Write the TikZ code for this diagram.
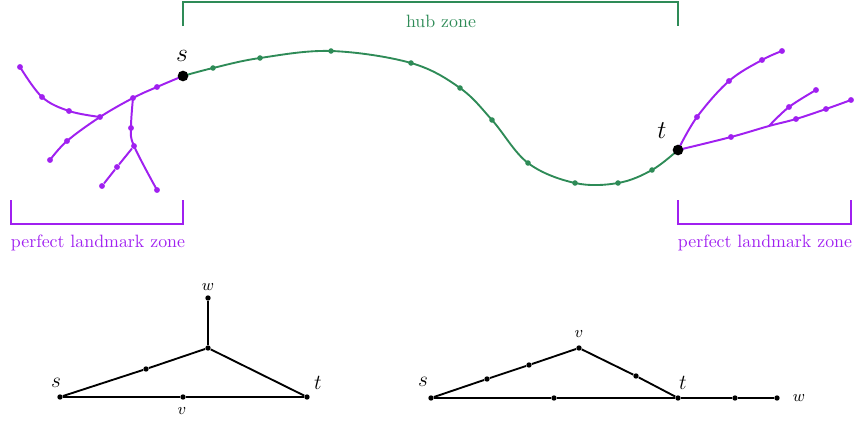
\documentclass[tikz,border=0pt]{standalone}
\usepackage{tikz}
\usetikzlibrary{positioning, backgrounds}
\definecolor{hubgreen}{RGB}{46,139,87}
\definecolor{lmpurple}{RGB}{160,32,240}

\begin{document}
\begin{tikzpicture}[
  x=0.0197cm, y=-0.0197cm,
  gdot/.style = {circle, fill=hubgreen, inner sep=0pt, minimum size=3.1pt},
  pdot/.style = {circle, fill=lmpurple, inner sep=0pt, minimum size=3.3pt},
  bigdot/.style = {circle, fill=black, inner sep=0pt, minimum size=6pt},
  bdot/.style = {circle, fill=black, inner sep=0pt, minimum size=3pt},
  hub/.style = { draw=hubgreen, line width=1.05pt },
  lm/.style = { draw=lmpurple, line width=1.1pt },
  edge/.style = { draw=black, line width=1.05pt },
  zonelbl/.style = { font=\normalsize }
]
\useasboundingbox (0,0) rectangle (854,423);

% top: hub path between s and t
\node[bigdot] (s) at (183,76) {};
\node[bigdot] (t) at (678,150) {};
\node at (182,56) {\Large $s$};
\node at (662,131) {\Large $t$};

\node[gdot] (g1)  at (213,68)  {};
\node[gdot] (g2)  at (260,58)  {};
\node[gdot] (g3)  at (331,51)  {};
\node[gdot] (g4)  at (411,63)  {};
\node[gdot] (g5)  at (460,88)  {};
\node[gdot] (g6)  at (492,120) {};
\node[gdot] (g7)  at (528,163) {};
\node[gdot] (g8)  at (575,183) {};
\node[gdot] (g9)  at (618,183) {};
\node[gdot] (g10) at (652,170) {};

% left landmark tree
\node[pdot] (la1) at (157,87)  {};
\node[pdot] (la2) at (133,98)  {};
\node[pdot] (la3) at (100,117) {};
\node[pdot] (la4) at (67,141)  {};
\node[pdot] (la5) at (50,160)  {};
\node[pdot] (lb1) at (69,111)  {};
\node[pdot] (lb2) at (42,97)   {};
\node[pdot] (lb3) at (20,67)   {};
\node[pdot] (lc1) at (131,128) {};
\node[pdot] (lc2) at (134,146) {};
\node[pdot] (lc3) at (157,190) {};
\node[pdot] (ld1) at (117,167) {};
\node[pdot] (ld2) at (102,186) {};

% right landmark tree
\node[pdot] (ra1) at (697,117) {};
\node[pdot] (ra2) at (729,81)  {};
\node[pdot] (ra3) at (762,60)  {};
\node[pdot] (ra4) at (782,51)  {};
\node[pdot] (rb1) at (731,137) {};
\coordinate (rj)  at (769,126);
\node[pdot] (rb2) at (796,119) {};
\node[pdot] (rb3) at (826,109) {};
\node[pdot] (rb4) at (851,100) {};
\node[pdot] (rc1) at (789,107) {};
\node[pdot] (rc2) at (816,90)  {};

\begin{scope}[on background layer, smooth, tension=0.6]
  \draw[hub] plot coordinates {(s.center) (g1.center) (g2.center)
    (g3.center) (g4.center) (g5.center) (g6.center) (g7.center)
    (g8.center) (g9.center) (g10.center) (t.center)};
  \draw[lm] plot coordinates {(s.center) (la1.center) (la2.center)
    (la3.center) (la4.center) (la5.center)};
  \draw[lm] plot coordinates {(la3.center) (lb1.center)
    (lb2.center) (lb3.center)};
  \draw[lm] plot coordinates {(la2.center) (lc1.center)
    (lc2.center) (lc3.center)};
  \draw[lm] (lc2) -- (ld1) -- (ld2);
  \draw[lm] plot coordinates {(t.center) (ra1.center) (ra2.center)
    (ra3.center) (ra4.center)};
  \draw[lm] plot coordinates {(t.center) (rb1.center) (rj)
    (rb2.center) (rb3.center) (rb4.center)};
  \draw[lm] plot coordinates {(rj) (rc1.center) (rc2.center)};
\end{scope}

% zone brackets
\coordinate (hubL) at (183,26);
\coordinate (hubR) at (678,26);
\draw[hub] (hubL) -- ++(0,-24) -| (hubR);
\node[text=hubgreen, zonelbl] (hubzone) at (441,21) {hub zone};

\coordinate (pl1) at (11,200);
\coordinate (pl2) at (183,200);
\draw[lm] (pl1) |- ++(172,24) -- (pl2);
\node[text=lmpurple, zonelbl] (lzone) at (98,243) {perfect landmark zone};

\coordinate (pr1) at (678,200);
\coordinate (pr2) at (851,200);
\draw[lm] (pr1) |- ++(173,24) -- (pr2);
\node[text=lmpurple, zonelbl] (rzone) at (765,243) {perfect landmark zone};

% bottom left graph
\node[bdot] (bs) at (60,397)  {};
\node[bdot] (bv) at (183,397) {};
\node[bdot] (bt) at (307,397) {};
\node[bdot] (bx) at (208,348) {};
\node[bdot] (bw) at (208,298) {};
\node[bdot] (bm) at (146,369) {};
\node at (56,383)  {\large $s$};
\node at (318,383) {\large $t$};
\node at (208,287) {\small $w$};
\node at (182,411) {\small $v$};

\draw[edge] (bs) -- (bv) -- (bt);
\draw[edge] (bs) -- (bm) -- (bx);
\draw[edge] (bx) -- (bt);
\draw[edge] (bx) -- (bw);

% bottom right graph
\node[bdot] (cs) at (431,398) {};
\node[bdot] (c1) at (487,379) {};
\node[bdot] (c2) at (529,365) {};
\node[bdot] (cv) at (579,348) {};
\node[bdot] (c3) at (636,376) {};
\node[bdot] (ct) at (678,398) {};
\node[bdot] (c4) at (554,398) {};
\node[bdot] (c5) at (735,398) {};
\node[bdot] (cw) at (777,398) {};
\node at (423,382) {\large $s$};
\node at (683,383) {\large $t$};
\node at (579,334) {\small $v$};
\node at (799,398) {\small $w$};

\draw[edge] (cs) -- (c1) -- (c2) -- (cv) -- (c3) -- (ct);
\draw[edge] (cs) -- (c4) -- (ct) -- (c5) -- (cw);

\end{tikzpicture}
\end{document}
